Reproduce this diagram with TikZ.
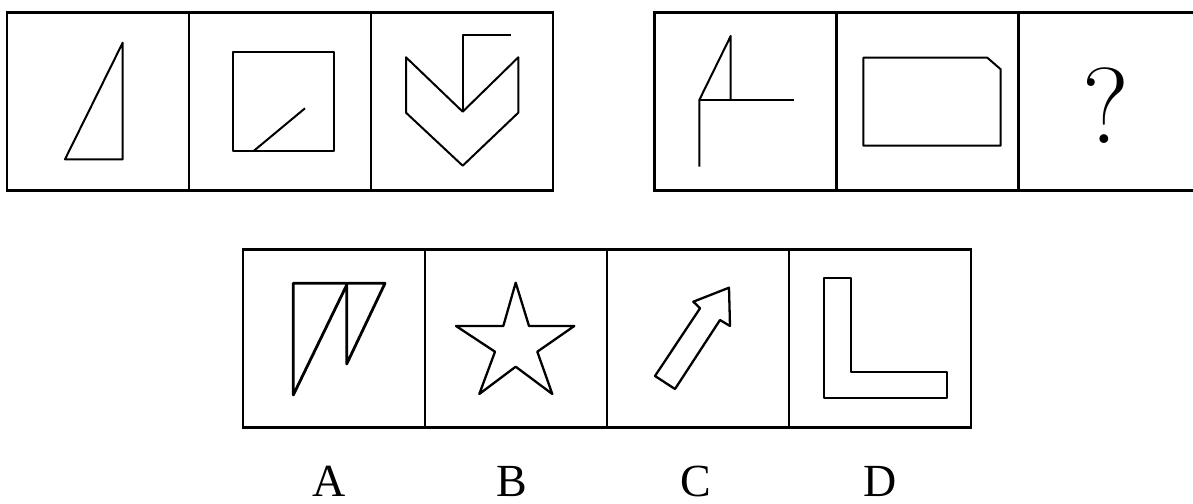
\documentclass[tikz,border=0pt]{standalone}
\usepackage{fontspec}
\setmainfont{Liberation Serif}
\newfontfamily\qmfont{Latin Modern Roman}
\usetikzlibrary{positioning}

\begin{document}
\begin{tikzpicture}[x=1pt,y=-1pt,node distance=0pt,
  cell/.style={draw,line width=2.8pt,minimum width=182pt,minimum height=178.5pt,
               inner sep=0pt,outer sep=0pt},
  fig/.style={line width=2pt,line join=round},
  lbl/.style={anchor=base,inner sep=0pt,font=\fontsize{46}{46}\selectfont}]
\useasboundingbox (0,0) rectangle (1193,503);
% question rows
\node[cell] (q1) at (98,101.5) {};
\node[cell,right=of q1] (q2) {};
\node[cell,right=of q2] (q3) {};
\node[cell] (q4) at (745.5,101.5) {};
\node[cell,right=of q4] (q5) {};
\node[cell,right=of q5] (q6) {};
% options
\node[cell] (oa) at (334,338.5) {};
\node[cell,right=of oa] (ob) {};
\node[cell,right=of ob] (oc) {};
\node[cell,right=of oc] (od) {};
% figures, first group
\draw[fig] (122.7,42.7) -- (122.7,159.3) -- (65,159.3) -- cycle;
\draw[fig] (232.7,52.3) rectangle (334,150.7);
\draw[fig] (254,150.7) -- (305,108.3);
\draw[fig] (406,57.3) -- (462.7,111.7) -- (518.3,57.3) -- (518.3,112.7)
  -- (462.7,165.7) -- (406,112.7) -- cycle;
\draw[fig] (462.7,111.7) -- (462.7,35) -- (510.7,35);
% figures, second group
\draw[fig] (699.3,166.7) -- (699.3,100) -- (730.7,36) -- (730.7,100);
\draw[fig] (699.3,100) -- (794,100);
\draw[fig] (863.3,57.7) -- (987.3,57.7) -- (1000.7,69.3) -- (1000.7,145.7)
  -- (863.3,145.7) -- cycle;
\node[anchor=base,inner sep=0pt,font=\qmfont\fontsize{108}{108}\selectfont] (qm) at (1106,143) {?};
% option figures
\draw[fig,line width=2.8pt] (293.3,283.3) -- (385,283.3) -- (346.7,364) -- (346.7,285)
  -- (293.3,395) -- cycle;
\draw[fig,line width=2.3pt] (515.7,282.7) -- (529,326) -- (574.3,326) -- (537.3,351.7)
  -- (552.3,394) -- (515.7,366.7) -- (479.3,394) -- (495,351.7) -- (456,326)
  -- (503.3,326) -- cycle;
\draw[fig,line width=2.3pt] (729,287.7) -- (730,326) -- (720,320) -- (675,389)
  -- (655,376) -- (700,308.3) -- (693.3,301.7) -- cycle;
\draw[fig,line width=2.3pt] (824,278.3) -- (850.7,278.3) -- (850.7,371.7) -- (946.7,371.7)
  -- (946.7,397.7) -- (824,397.7) -- cycle;
% labels
\node[lbl] (la) at (329,496) {A};
\node[lbl] (lb) at (512,496) {B};
\node[lbl] (lc) at (696,496) {C};
\node[lbl] (ld) at (880,496) {D};
\end{tikzpicture}
\end{document}
